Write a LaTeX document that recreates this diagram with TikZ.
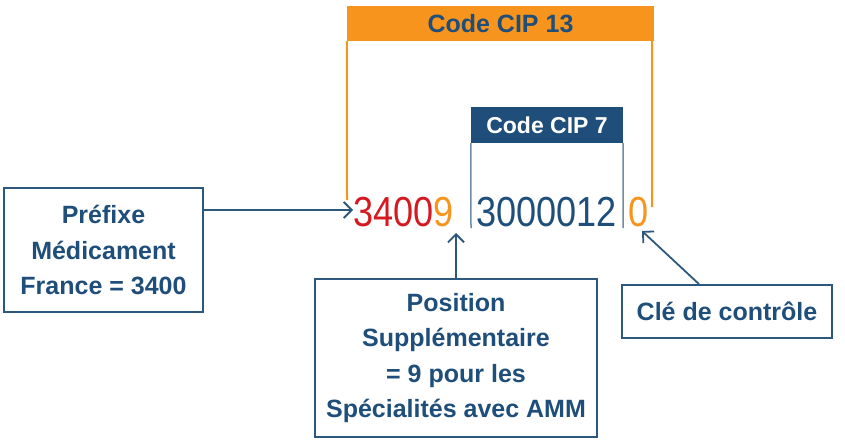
\documentclass[tikz,border=0pt]{standalone}
\usepackage{fontspec}
\setmainfont{Liberation Sans}
\newfontfamily\digitfont[FakeStretch=0.86]{Liberation Sans}
\usetikzlibrary{arrows.meta, positioning}
\definecolor{cipblue}{RGB}{30,78,121}
\definecolor{cipframe}{RGB}{44,88,126}
\definecolor{ciporange}{RGB}{247,148,29}
\definecolor{cipred}{RGB}{214,24,32}
\colorlet{cipline}{cipblue!65}

\begin{document}
\begin{tikzpicture}[x=1pt,y=-1pt,
    infobox/.style={draw=cipframe, line width=1.8pt, fill=white, text=cipblue,
      align=center, inner sep=0pt, font=\fontsize{25}{35.5}\selectfont\bfseries},
    header/.style={inner sep=0pt, font=\fontsize{25}{25}\selectfont\bfseries},
    pointer/.style={-{Straight Barb[length=8pt,width=16pt]}, line width=1.8pt, cipframe},
    digits/.style={anchor=base west, inner sep=0pt, font=\digitfont\fontsize{42}{42}\selectfont}]
  \useasboundingbox (0,0) rectangle (845,442);
  % headers and brackets
  \node[header, fill=ciporange, text=cipblue, minimum width=307pt, minimum height=35pt]
        (cip13) at (500.5,23.5) {Code CIP 13};
  \coordinate (l13) at (347,200);
  \coordinate (r13) at (652,207);
  \draw[ciporange, line width=2pt] (cip13.south west) -- (l13);
  \draw[ciporange, line width=2pt] ([xshift=-2pt]cip13.south east) -- (r13);
  \node[header, fill=cipblue, text=white, minimum width=152pt, minimum height=36pt,
        font=\fontsize{23}{23}\selectfont\bfseries] (cip7) at (547,125) {Code CIP 7};
  \coordinate (l7) at (471,228);
  \coordinate (r7) at (623,228);
  \draw[cipline, line width=1.5pt] (cip7.south west) -- (l7);
  \draw[cipline, line width=1.5pt] (cip7.south east) -- (r7);
  % the code
  \node[digits] (pfx) at (353,226) {\textcolor{cipred}{3400}\textcolor{ciporange}{9}};
  \node[digits, text=cipblue] (core) at (476,226) {3000012};
  \node[digits, text=ciporange] (key) at (628,226) {0};
  % explanations
  \node[infobox, minimum width=199pt, minimum height=124pt] (prefixe) at (103.5,250)
        {Préfixe\\Médicament\\France = 3400};
  \node[infobox, minimum width=282pt, minimum height=158pt] (position) at (456,358)
        {Position\\Supplémentaire\\= 9 pour les\\Spécialités avec AMM};
  \node[infobox, minimum width=210pt, minimum height=53pt] (cle) at (727,311.5)
        {Clé de contrôle};
  \coordinate (nine) at (457,233);
  \coordinate (keytip) at (642,231);
  \draw[pointer] ([yshift=40pt]prefixe.east) -- ([yshift=40pt]prefixe.east -| pfx.west);
  \draw[pointer] (position.north) -- (position.north |- nine);
  \draw[pointer] ([xshift=-28pt]cle.north) -- (keytip);
\end{tikzpicture}
\end{document}
